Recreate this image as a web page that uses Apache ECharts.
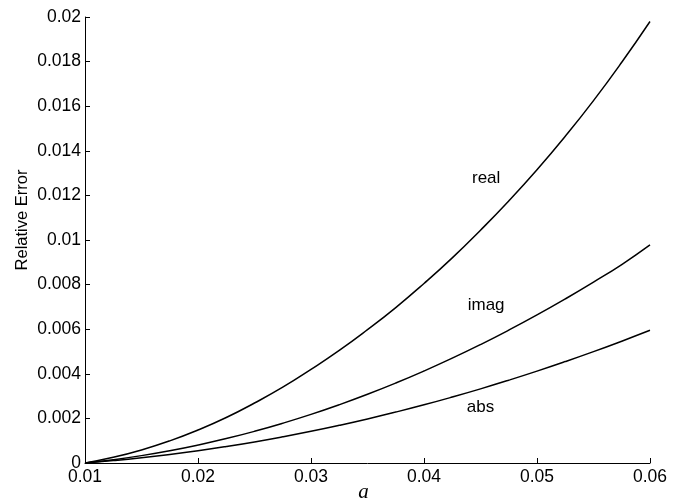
<!DOCTYPE html>
<html>
<head>
<meta charset="utf-8">
<script src="https://cdn.jsdelivr.net/npm/echarts@6/dist/echarts.min.js"></script>
<style>html,body{margin:0;padding:0;background:#fff;}#c{width:687px;height:499px;}</style>
</head>
<body>
<div id="c"></div>
<script>
// x values (a)
var aValues = [0.01,0.0125,0.015,0.0175,0.02,0.0225,0.025,0.0275,0.03,0.0325,0.035,0.0375,0.04,0.0425,0.045,0.0475,0.05,0.0525,0.055,0.0575,0.06];
var realErr = [0,0.000254,0.000585,0.000994,0.00148,0.00204,0.00269,0.00340,0.00420,0.00505,0.00598,0.00697,0.00805,0.00920,0.01044,0.01175,0.01315,0.01465,0.01625,0.01797,0.0198];
var imagErr = [0,0.000148,0.000331,0.00055,0.000805,0.001095,0.001421,0.001783,0.00218,0.002613,0.003081,0.003585,0.004125,0.0047,0.005311,0.005958,0.00664,0.007358,0.008111,0.0089,0.00978];
var absErr = [0,0.000108,0.000235,0.000383,0.00055,0.000738,0.000945,0.001173,0.00142,0.001688,0.001975,0.002283,0.00261,0.002958,0.003325,0.003713,0.00412,0.004548,0.004995,0.005463,0.00595];
var seriesNames = ['real','imag','abs'];
var labelPos = [[0.0455,0.01278],[0.0455,0.00709],[0.0450,0.00251]];

function pairs(ys){ return aValues.map(function(x,i){ return [x, ys[i]]; }); }
var font = 'Liberation Sans, Arial, Helvetica, sans-serif';
var chart = echarts.init(document.getElementById('c'));
var lineSeries = [realErr, imagErr, absErr].map(function(ys, k){
  return {
    type: 'line', name: seriesNames[k], data: pairs(ys), smooth: true,
    showSymbol: false, symbol: 'none',
    lineStyle: {color: '#000', width: 1.5},
    animation: false
  };
});
lineSeries.push({
  type: 'scatter', symbolSize: 1, animation: false,
  data: labelPos.map(function(p, k){ return {value: p, name: seriesNames[k]}; }),
  label: {show: true, position: 'inside', formatter: function(p){ return p.name; },
    color: '#000', opacity: 1, fontFamily: font, fontSize: 17},
  itemStyle: {color: 'rgba(0,0,0,0)'}, silent: true
});
chart.setOption({
  backgroundColor: '#fff',
  animation: false,
  grid: {left: 85, right: 37, top: 17, bottom: 36, containLabel: false, outerBoundsMode: 'none'},
  xAxis: {
    type: 'value', min: 0.01, max: 0.06, interval: 0.01,
    name: 'a', nameLocation: 'middle', nameGap: 19, nameMoveOverlap: false,
    nameTextStyle: {fontFamily: 'Liberation Serif, DejaVu Serif, serif', fontStyle: 'italic', fontSize: 21, color: '#000', padding: [0,8,0,0]},
    axisLine: {show: true, lineStyle: {color: '#000', width: 1}},
    axisTick: {show: true, inside: true, length: 5, lineStyle: {color: '#000'}},
    axisLabel: {color: '#000', fontFamily: font, fontSize: 17.5, margin: 5,
      formatter: function(v){ return (+v.toFixed(3)).toString(); }},
    splitLine: {show: false}
  },
  yAxis: {
    type: 'value', min: 0, max: 0.02, interval: 0.002,
    name: 'Relative Error', nameLocation: 'middle', nameGap: 54, nameRotate: 90, nameMoveOverlap: false,
    nameTextStyle: {fontFamily: font, fontSize: 16.5, color: '#000', padding: [0,0,0,40]},
    axisLine: {show: true, lineStyle: {color: '#000', width: 1}},
    axisTick: {show: true, inside: true, length: 5, lineStyle: {color: '#000'}},
    axisLabel: {color: '#000', fontFamily: font, fontSize: 17.5, margin: 4,
      formatter: function(v){ return (+v.toFixed(3)).toString(); }},
    splitLine: {show: false}
  },
  series: lineSeries
});
</script>
</body>
</html>
